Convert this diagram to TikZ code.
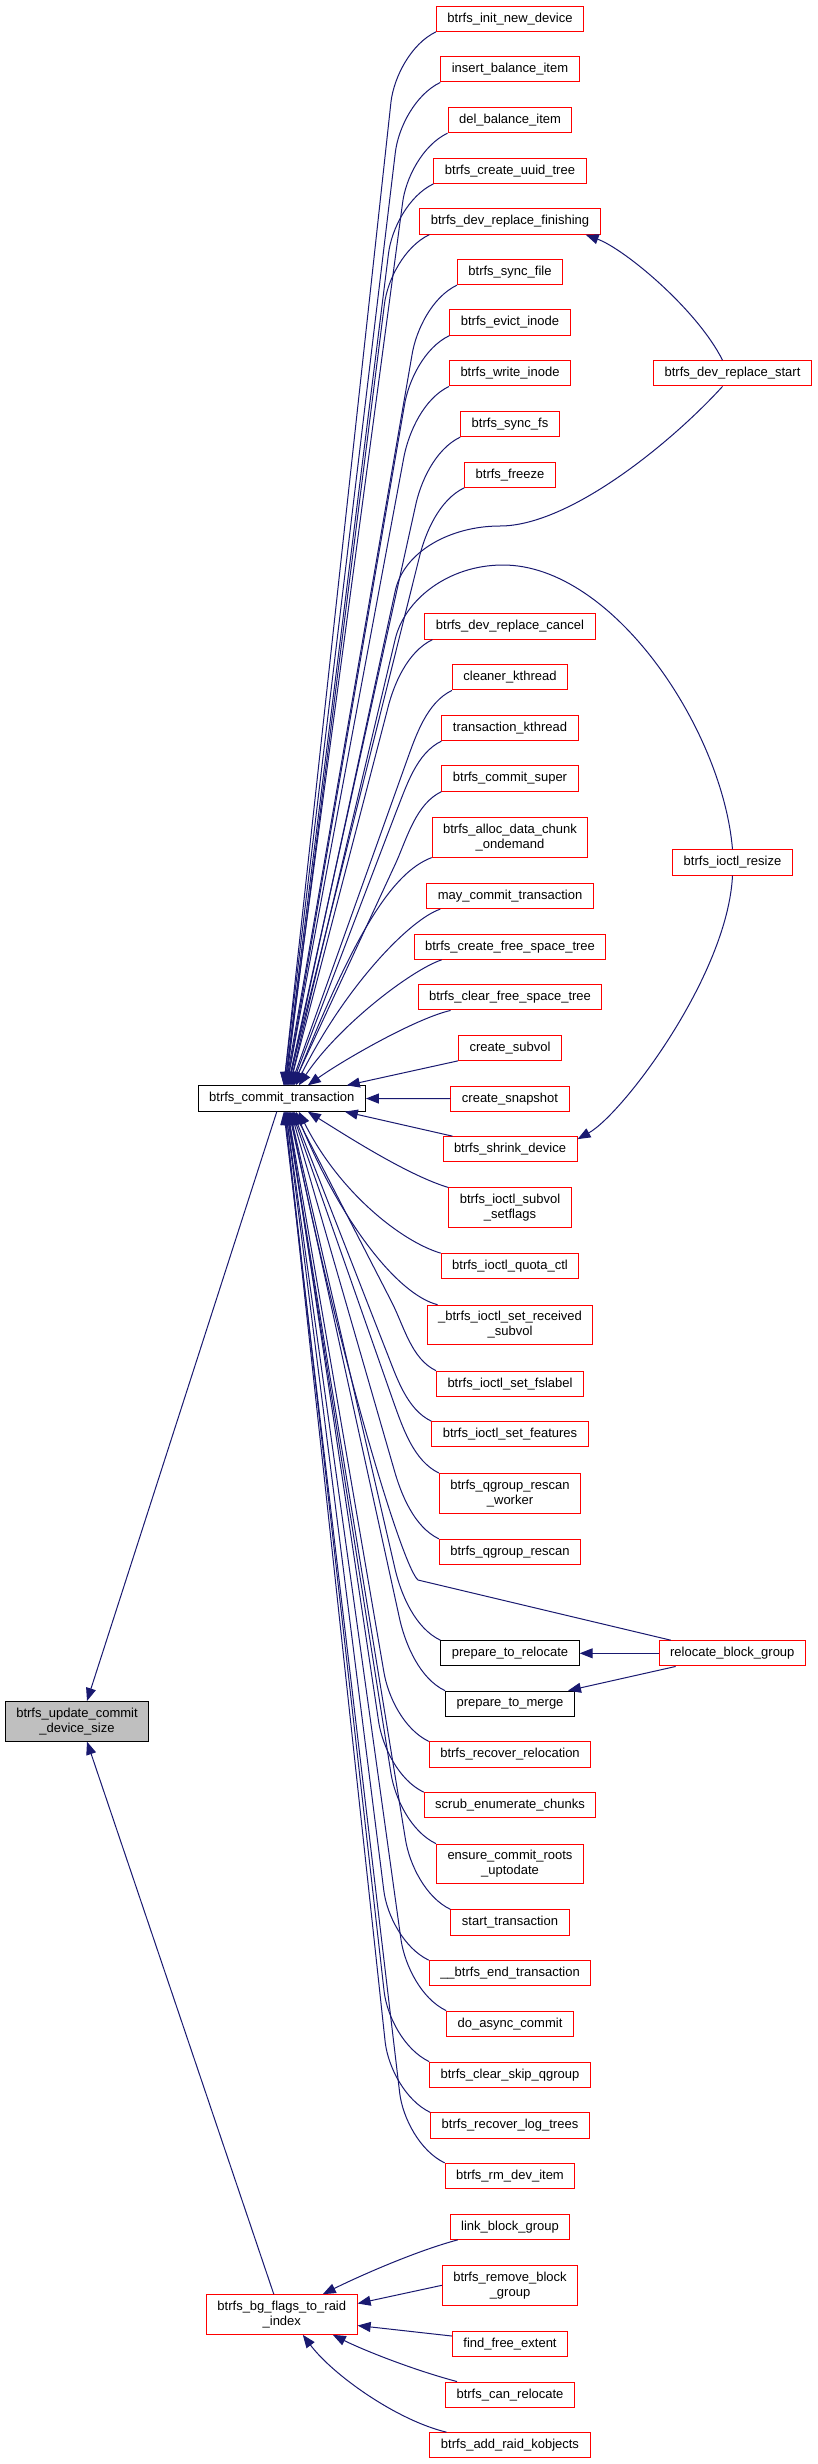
\documentclass[tikz,border=0pt]{standalone}
\usepackage{fontspec}
\setmainfont{Liberation Sans}
\usepackage{tikz}
\usetikzlibrary{arrows.meta}
\definecolor{edgeblue}{HTML}{191970}
\definecolor{focusgray}{HTML}{BFBFBF}

\begin{document}
\begin{tikzpicture}[
  x=1pt, y=-1pt,
  font=\fontsize{13}{15}\selectfont,
  fnbox/.style={draw=red, fill=white, line width=1pt, align=center,
                inner xsep=11pt, inner ysep=6.3pt, minimum height=25.3pt},
  plainbox/.style={fnbox, draw=black},
  focusbox/.style={fnbox, draw=black, fill=focusgray},
  calledge/.style={-{Triangle[length=13pt,width=10pt]}, color=edgeblue, line width=1pt},
]
\useasboundingbox[fill=white] (0,0) rectangle (817,2464);

\node[focusbox] (updsize) at (77,1721.3) {btrfs\_update\_commit\\\_device\_size};
\node[plainbox] (commit) at (281.8,1098.5) {btrfs\_commit\_transaction};
\node[fnbox] (raidindex) at (281.8,2314.5) {btrfs\_bg\_flags\_to\_raid\\\_index};

\node[fnbox] (initdev) at (510,18.7) {btrfs\_init\_new\_device};
\node[fnbox] (insbal) at (510,69.3) {insert\_balance\_item};
\node[fnbox] (delbal) at (510,120) {del\_balance\_item};
\node[fnbox] (uuidtree) at (510,170.7) {btrfs\_create\_uuid\_tree};
\node[fnbox] (finishing) at (510,221.5) {btrfs\_dev\_replace\_finishing};
\node[fnbox] (syncfile) at (510,272) {btrfs\_sync\_file};
\node[fnbox] (evict) at (510,322.5) {btrfs\_evict\_inode};
\node[fnbox] (writeinode) at (510,373.3) {btrfs\_write\_inode};
\node[fnbox] (syncfs) at (510,424) {btrfs\_sync\_fs};
\node[fnbox] (freeze) at (510,474.7) {btrfs\_freeze};
\node[fnbox] (rstart) at (732.5,373.3) {btrfs\_dev\_replace\_start};
\node[fnbox] (cancel) at (510,626.5) {btrfs\_dev\_replace\_cancel};
\node[fnbox] (cleaner) at (510,677.3) {cleaner\_kthread};
\node[fnbox] (transk) at (510,728) {transaction\_kthread};
\node[fnbox] (csuper) at (510,778.5) {btrfs\_commit\_super};
\node[fnbox] (allocchunk) at (510,837.3) {btrfs\_alloc\_data\_chunk\\\_ondemand};
\node[fnbox] (maycommit) at (510,896) {may\_commit\_transaction};
\node[fnbox] (createfst) at (510,946.7) {btrfs\_create\_free\_space\_tree};
\node[fnbox] (clearfst) at (510,997.3) {btrfs\_clear\_free\_space\_tree};
\node[fnbox] (csubvol) at (510,1047.7) {create\_subvol};
\node[fnbox] (csnap) at (510,1098.7) {create\_snapshot};
\node[fnbox] (resize) at (732.5,862.5) {btrfs\_ioctl\_resize};
\node[fnbox] (shrink) at (510,1149.3) {btrfs\_shrink\_device};
\node[fnbox] (setflags) at (510,1207.8) {btrfs\_ioctl\_subvol\\\_setflags};
\node[fnbox] (quota) at (510,1266.3) {btrfs\_ioctl\_quota\_ctl};
\node[fnbox] (recvsubvol) at (510,1325) {\_btrfs\_ioctl\_set\_received\\\_subvol};
\node[fnbox] (fslabel) at (510,1383.8) {btrfs\_ioctl\_set\_fslabel};
\node[fnbox] (features) at (510,1434.3) {btrfs\_ioctl\_set\_features};
\node[fnbox] (rescanw) at (510,1493.3) {btrfs\_qgroup\_rescan\\\_worker};
\node[fnbox] (rescan) at (510,1552) {btrfs\_qgroup\_rescan};
\node[plainbox] (prepreloc) at (510,1653.3) {prepare\_to\_relocate};
\node[plainbox] (prepmerge) at (510,1703.8) {prepare\_to\_merge};
\node[fnbox] (relblk) at (732.3,1653.3) {relocate\_block\_group};
\node[fnbox] (recreloc) at (510,1754.5) {btrfs\_recover\_relocation};
\node[fnbox] (scrub) at (510,1805.3) {scrub\_enumerate\_chunks};
\node[fnbox] (ensure) at (510,1864) {ensure\_commit\_roots\\\_uptodate};
\node[fnbox] (starttr) at (510,1922.5) {start\_transaction};
\node[fnbox] (endtr) at (510,1973.3) {\_\_btrfs\_end\_transaction};
\node[fnbox] (asyncc) at (510,2023.7) {do\_async\_commit};
\node[fnbox] (clearskip) at (510,2074.7) {btrfs\_clear\_skip\_qgroup};
\node[fnbox] (reclog) at (510,2125.5) {btrfs\_recover\_log\_trees};
\node[fnbox] (rmdev) at (510,2176) {btrfs\_rm\_dev\_item};
\node[fnbox] (linkbg) at (510,2226.7) {link\_block\_group};
\node[fnbox] (rmbg) at (510,2285.3) {btrfs\_remove\_block\\\_group};
\node[fnbox] (findfree) at (510,2344) {find\_free\_extent};
\node[fnbox] (canreloc) at (510,2394.7) {btrfs\_can\_relocate};
\node[fnbox] (addraid) at (510,2445.3) {btrfs\_add\_raid\_kobjects};

\draw[calledge] ([xshift=-5pt]commit.south) -- ([xshift=10pt]updsize.north);
\draw[calledge] ([xshift=-8pt]raidindex.north) -- ([xshift=10pt]updsize.south);

\draw[calledge] (initdev.south west) .. controls +(-25,12) and +(3,-25) .. ++(-45,70) -- ([xshift=2pt]commit.north);
\draw[calledge] (insbal.south west) .. controls +(-25,12) and +(3,-25) .. ++(-45,70) -- ([xshift=2pt]commit.north);
\draw[calledge] (delbal.south west) .. controls +(-25,12) and +(3,-25) .. ++(-45,70) -- ([xshift=3pt]commit.north);
\draw[calledge] (uuidtree.south west) .. controls +(-25,12) and +(3,-25) .. ++(-45,70) -- ([xshift=3pt]commit.north);
\draw[calledge] ([xshift=10pt]finishing.south west) .. controls +(-25,12) and +(3,-25) .. ++(-45,70) -- ([xshift=4pt]commit.north);
\draw[calledge] (syncfile.south west) .. controls +(-25,12) and +(4,-25) .. ++(-45,70) -- ([xshift=4pt]commit.north);
\draw[calledge] (evict.south west) .. controls +(-25,12) and +(4,-25) .. ++(-45,70) -- ([xshift=5pt]commit.north);
\draw[calledge] (writeinode.south west) .. controls +(-25,12) and +(5,-25) .. ++(-45,70) -- ([xshift=5pt]commit.north);
\draw[calledge] (syncfs.south west) .. controls +(-25,12) and +(5,-25) .. ++(-45,70) -- ([xshift=6pt]commit.north);
\draw[calledge] (freeze.south west) .. controls +(-25,12) and +(6,-25) .. ++(-45,70) -- ([xshift=6pt]commit.north);
\draw[calledge] ([xshift=-10pt]rstart.south) .. controls +(-50,55) and +(70,0) .. (500,526)
  .. controls +(-50,0) and +(8,-40) .. (395,592) -- ([xshift=7pt]commit.north);
\draw[calledge] (resize.north) .. controls +(-10,-120) and +(110,0) .. (503,565)
  .. controls +(-55,0) and +(9,-40) .. (395,640) -- ([xshift=8pt]commit.north);
\draw[calledge] ([xshift=8pt]cancel.south west) .. controls +(-25,12) and +(6,-25) .. ++(-45,70) -- ([xshift=8pt]commit.north);
\draw[calledge] (cleaner.south west) .. controls +(-25,12) and +(9,-25) .. ++(-45,70) -- ([xshift=9pt]commit.north);
\draw[calledge] (transk.south west) .. controls +(-25,12) and +(10,-25) .. ++(-45,70) -- ([xshift=10pt]commit.north);
\draw[calledge] (csuper.south west) .. controls +(-25,12) and +(11,-25) .. ++(-45,70) -- ([xshift=11pt]commit.north);
\draw[calledge] (allocchunk.south west) .. controls +(-40,15) and +(60,-150) .. ([xshift=12pt]commit.north);
\draw[calledge] ([xshift=14pt]maycommit.south west) .. controls +(-30,10) and +(50,-100) .. ([xshift=14pt]commit.north);
\draw[calledge] ([xshift=28pt]createfst.south west) .. controls +(-30,10) and +(40,-60) .. ([xshift=17pt]commit.north);
\draw[calledge] ([xshift=33pt]clearfst.south west) .. controls +(-35,8) and +(35,-25) .. ([xshift=26pt]commit.north);
\draw[calledge] (csubvol.south west) -- ([xshift=65pt]commit.north);
\draw[calledge] (csnap.west) -- (commit.east);

\draw[calledge] ([xshift=10pt]shrink.north west) -- ([xshift=63pt]commit.south);
\draw[calledge] (setflags.north west) .. controls +(-40,-12) and +(40,25) .. ([xshift=26pt]commit.south);
\draw[calledge] (quota.north west) .. controls +(-40,-12) and +(40,80) .. ([xshift=17pt]commit.south);
\draw[calledge] ([xshift=11pt]recvsubvol.north west) .. controls +(-40,-10) and +(45,110) .. ([xshift=14pt]commit.south);
\draw[calledge] (fslabel.north west) .. controls +(-25,-12) and +(13,25) .. ++(-45,-70) -- ([xshift=12pt]commit.south);
\draw[calledge] (features.north west) .. controls +(-25,-12) and +(10,25) .. ++(-45,-70) -- ([xshift=11pt]commit.south);
\draw[calledge] (rescanw.north west) .. controls +(-25,-12) and +(9,25) .. ++(-45,-70) -- ([xshift=10pt]commit.south);
\draw[calledge] (rescan.north west) .. controls +(-25,-12) and +(7,25) .. ++(-45,-70) -- ([xshift=9pt]commit.south);
\draw[calledge] ([xshift=12pt]relblk.north west) -- (418,1580) .. controls +(-15,-12) and +(50,250) .. ([xshift=8pt]commit.south);
\draw[calledge] (prepreloc.north west) .. controls +(-25,-12) and +(6,25) .. ++(-45,-70) -- ([xshift=8pt]commit.south);
\draw[calledge] (prepmerge.north west) .. controls +(-25,-12) and +(6,25) .. ++(-45,-70) -- ([xshift=7pt]commit.south);
\draw[calledge] (recreloc.north west) .. controls +(-25,-12) and +(4,25) .. ++(-45,-70) -- ([xshift=6pt]commit.south);
\draw[calledge] (scrub.north west) .. controls +(-25,-12) and +(4,25) .. ++(-45,-70) -- ([xshift=6pt]commit.south);
\draw[calledge] (ensure.north west) .. controls +(-25,-12) and +(4,25) .. ++(-45,-70) -- ([xshift=5pt]commit.south);
\draw[calledge] (starttr.north west) .. controls +(-25,-12) and +(4,25) .. ++(-45,-70) -- ([xshift=5pt]commit.south);
\draw[calledge] (endtr.north west) .. controls +(-25,-12) and +(3,25) .. ++(-45,-70) -- ([xshift=4pt]commit.south);
\draw[calledge] (asyncc.north west) .. controls +(-25,-12) and +(4,25) .. ++(-45,-70) -- ([xshift=4pt]commit.south);
\draw[calledge] (clearskip.north west) .. controls +(-25,-12) and +(3,25) .. ++(-45,-70) -- ([xshift=3pt]commit.south);
\draw[calledge] (reclog.north west) .. controls +(-25,-12) and +(3,25) .. ++(-45,-70) -- ([xshift=3pt]commit.south);
\draw[calledge] (rmdev.north west) .. controls +(-25,-12) and +(3,25) .. ++(-45,-70) -- ([xshift=2pt]commit.south);

\draw[calledge] ([xshift=-10pt]rstart.north) .. controls +(-25,-50) and +(40,15) .. ([xshift=-15pt]finishing.south east);
\draw[calledge] (resize.south) .. controls +(-5,100) and +(45,-25) .. ([yshift=-3pt]shrink.north east);
\draw[calledge] (relblk.west) -- (prepreloc.east);
\draw[calledge] ([xshift=17pt]relblk.south west) -- ([xshift=-7pt]prepmerge.north east);

\draw[calledge] ([xshift=8pt]linkbg.south west) .. controls +(-45,12) and +(30,-15) .. ([xshift=41pt]raidindex.north);
\draw[calledge] (rmbg.west) -- ([yshift=11pt]raidindex.east);
\draw[calledge] ([yshift=8pt]findfree.west) -- ([yshift=-11pt]raidindex.east);
\draw[calledge] ([xshift=12pt]canreloc.north west) .. controls +(-45,-12) and +(30,15) .. ([xshift=51pt]raidindex.south);
\draw[calledge] ([xshift=17pt]addraid.north west) .. controls +(-50,-12) and +(30,40) .. ([xshift=21pt]raidindex.south);
\end{tikzpicture}
\end{document}
